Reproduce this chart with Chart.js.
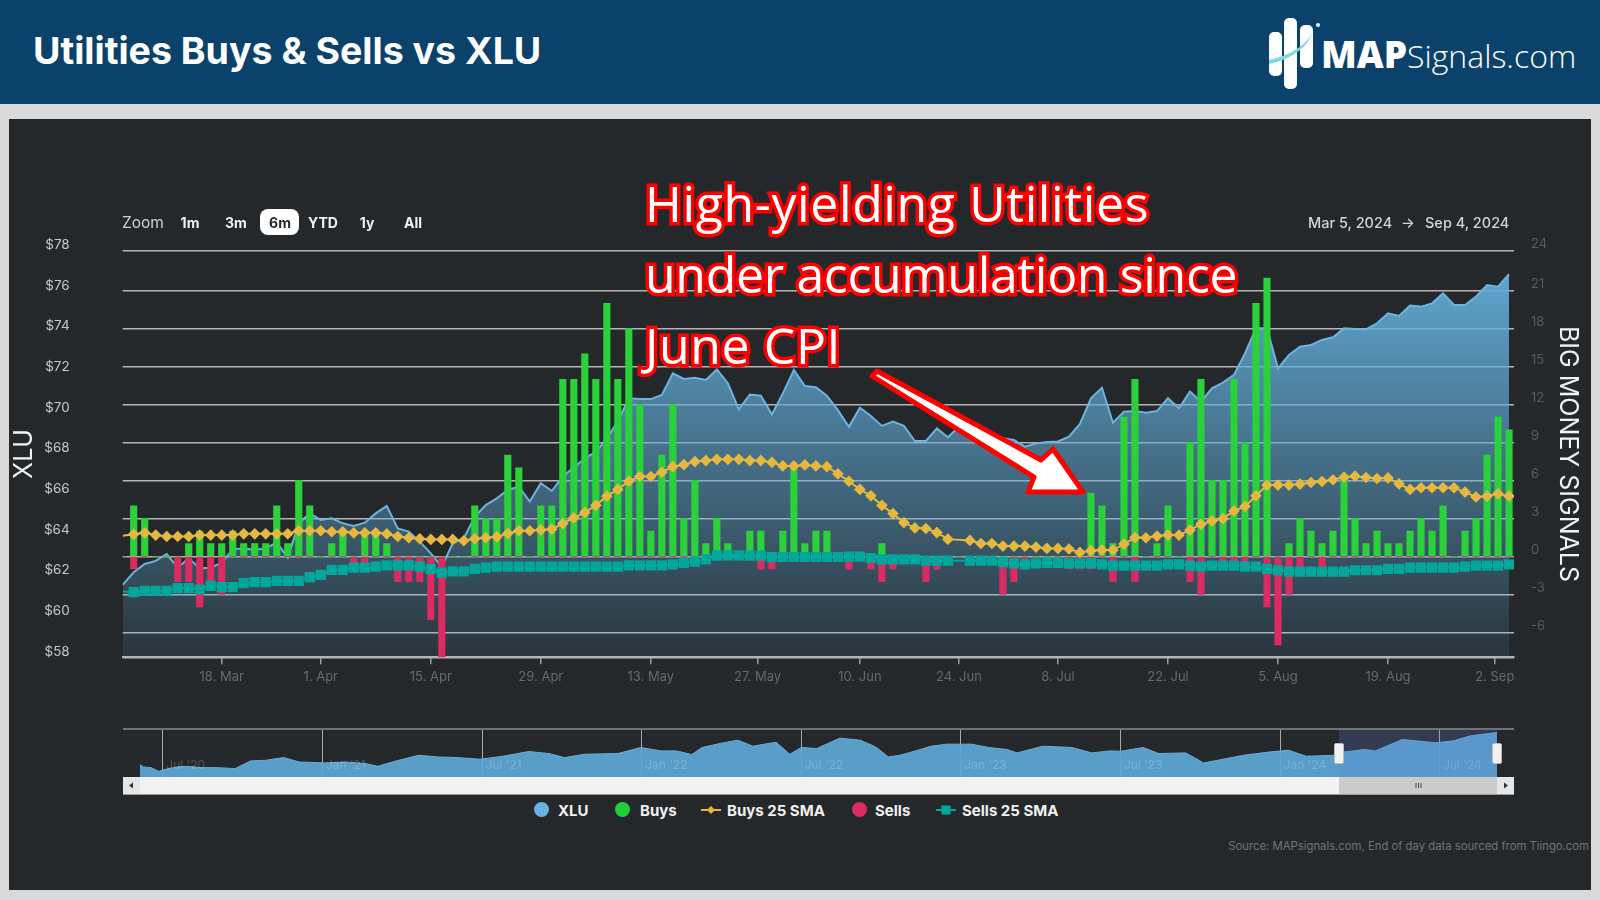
<!DOCTYPE html>
<html>
<head>
<meta charset="utf-8">
<title>Utilities Buys & Sells vs XLU</title>
<script src="https://cdn.jsdelivr.net/npm/chart.js@4"></script>
<style>
  html, body { margin: 0; padding: 0; width: 1600px; height: 900px; overflow: hidden; background: #dadada; font-family: Inter, sans-serif; }
  .abs { position: absolute; white-space: nowrap; }
  #header { left: 0; top: 0; width: 1600px; height: 104px; background: #0a426b; }
  #title { left: 33px; top: 28px; font: 700 37.5px Inter, sans-serif; color: #fff; }
  #panel { left: 9px; top: 118.5px; width: 1582px; height: 771.5px; background: #24282b; }
  canvas { position: absolute; left: 0; }
  #mainChart { top: 118px; }
  #navChart { top: 720px; }
  .zoomBtn { top: 214px; font: 700 14px Inter, sans-serif; color: #f2f2f2; transform: translateX(-50%); }
  #pill { left: 260px; top: 209px; width: 39px; height: 26px; border-radius: 8px; background: #fff; }
  .range { top: 214px; font: 500 14.5px Inter, sans-serif; color: #d4d4d4; }
  #note { left: 645px; top: 168px; font: 400 50px/71px "Open Sans", sans-serif; color: #fff; -webkit-text-stroke: 7px #f00; paint-order: stroke fill; white-space: pre; }
  .legendText { top: 801px; font: 700 15px Inter, sans-serif; color: #f2f2f2; }
  .dot { top: 802px; width: 15px; height: 15px; border-radius: 50%; }
  #source { right: 11px; top: 839px; font: 400 11.3px Inter, sans-serif; color: #6f7375; }
  #scroll { left: 123px; top: 777px; width: 1391px; height: 17px; background: #f2f2f2; border-bottom: 1px solid #999; }
  .arrowBtn { top: 777px; width: 17px; height: 17px; background: #e6e6e6; }
  #thumb { left: 1339px; top: 777px; width: 158px; height: 17px; background: #cbcbcb; }
  #navTop { left: 123px; top: 728px; width: 1391px; height: 2px; background: #707274; }
  #navMask { left: 1339px; top: 730px; width: 158px; height: 47px; background: rgba(98,128,220,0.22); }
  .handle { top: 743px; width: 8px; height: 19px; background: #f2f2f2; border: 1px solid #bbb; border-radius: 2px; }
  #logoText { left: 1321px; top: 28px; color: #fff; font: 300 32px "Open Sans", sans-serif; }
  #logoText b { font: 800 37px "Open Sans", sans-serif; }
</style>
</head>
<body>
<div class="abs" id="header"></div>
<div class="abs" id="title">Utilities Buys &amp; Sells vs XLU</div>
<svg class="abs" style="left:1260px;top:10px" width="70" height="85">
  <rect x="9" y="22" width="13" height="44" rx="5" fill="#fff"/>
  <rect x="24" y="8" width="13" height="71" rx="5" fill="#fff"/>
  <rect x="40" y="15" width="13" height="43" rx="5" fill="#fff"/>
  <path d="M9 50 C28 46 46 36 53 22 C47 39 29 50 9 54 Z" fill="#7fd6e6"/>
  <circle cx="58" cy="15" r="2" fill="#fff"/>
</svg>
<div class="abs" id="logoText"><b>MAP</b>Signals.com</div>
<div class="abs" id="panel"></div>
<canvas id="mainChart" width="1600" height="600"></canvas>
<canvas id="navChart" width="1600" height="57"></canvas>

<div class="abs" style="left:122px;top:213px;font:400 15.5px Inter,sans-serif;color:#cfcfcf">Zoom</div>
<div class="abs" id="pill"></div>
<div class="abs zoomBtn" style="left:190px">1m</div>
<div class="abs zoomBtn" style="left:236px">3m</div>
<div class="abs zoomBtn" style="left:280px;color:#24282b">6m</div>
<div class="abs zoomBtn" style="left:323px">YTD</div>
<div class="abs zoomBtn" style="left:367px">1y</div>
<div class="abs zoomBtn" style="left:413px">All</div>
<div class="abs range" style="left:1308px">Mar 5, 2024</div>
<div class="abs range" style="left:1401px">→</div>
<div class="abs range" style="left:1425px">Sep 4, 2024</div>

<div class="abs" id="navTop"></div>
<div class="abs" id="navMask"></div>
<div class="abs" id="scroll"></div>
<div class="abs arrowBtn" style="left:123px"></div>
<div class="abs" id="thumb"></div>
<div class="abs arrowBtn" style="left:1497px"></div>
<svg class="abs" style="left:123px;top:777px" width="1391" height="17">
  <path d="M6 8.5 L10 5.5 L10 11.5 Z" fill="#333"/>
  <path d="M1385 8.5 L1381 5.5 L1381 11.5 Z" fill="#333"/>
  <path d="M1293 6V11 M1295.5 6V11 M1298 6V11" stroke="#444" stroke-width="1"/>
</svg>
<div class="abs handle" style="left:1334px"></div>
<div class="abs handle" style="left:1492px"></div>

<div class="abs dot" style="left:534px;background:#66b2e0"></div>
<div class="abs legendText" style="left:558px">XLU</div>
<div class="abs dot" style="left:615px;background:#22cf3a"></div>
<div class="abs legendText" style="left:640px">Buys</div>
<svg class="abs" style="left:701px;top:803px" width="20" height="14"><path d="M0 7H20" stroke="#e8b53a" stroke-width="2"/><path d="M10 3L14 7L10 11L6 7Z" fill="#e8b53a"/></svg>
<div class="abs legendText" style="left:727px">Buys 25 SMA</div>
<div class="abs dot" style="left:852px;background:#dc2a63"></div>
<div class="abs legendText" style="left:875px">Sells</div>
<svg class="abs" style="left:936px;top:803px" width="20" height="14"><path d="M0 7H20" stroke="#00a79a" stroke-width="2"/><rect x="5.5" y="2.5" width="9" height="9" fill="#00a79a"/></svg>
<div class="abs legendText" style="left:962px">Sells 25 SMA</div>
<div class="abs" id="source">Source: MAPsignals.com, End of day data sourced from Tiingo.com</div>

<div class="abs" id="note"><span style="letter-spacing:0.6px">High-yielding Utilities</span>
<span style="letter-spacing:-0.34px">under accumulation since</span>
<span style="letter-spacing:0.6px">June CPI</span></div>
<svg class="abs" style="left:0;top:0" width="1600" height="900">
  <path d="M872 376 L877 371 L1041 460 L1053 449 L1083 492 L1028 492 L1034 477 Z" fill="#fff" stroke="#f00" stroke-width="5" stroke-linejoin="round"/>
</svg>

<script>
// Chart data, one entry per trading day, Mar 5 to Sep 4 2024
const xluPrices = [
  61.56, 62.18, 62.59, 62.74, 63.08, 62.41, 62.87, 62.38, 62.41, 62.66,
  63.31, 63.36, 63.28, 63.36, 63.64, 62.90, 64.59, 65.08, 64.75, 64.84,
  64.59, 64.46, 64.62, 65.08, 65.44, 64.34, 64.18, 63.69, 63.11, 62.46,
  63.61, 63.85, 64.92, 65.49, 65.82, 66.23, 66.39, 65.66, 66.56, 66.18,
  66.89, 67.34, 67.79, 68.11, 68.77, 69.59, 70.74, 70.70, 70.70, 70.90,
  71.97, 71.69, 71.75, 71.64, 72.16, 71.48, 70.20, 70.93, 70.87, 69.95,
  70.98, 72.13, 71.34, 71.28, 70.87, 70.16, 69.34, 70.28, 69.87, 69.38,
  69.59, 69.39, 68.64, 68.64, 69.26, 68.82, 69.34, 69.18, 69.02, 68.85,
  68.77, 68.69, 68.36, 68.52, 68.59, 68.62, 68.85, 69.48, 70.74, 71.26,
  69.54, 70.08, 70.11, 70.03, 70.11, 70.74, 70.25, 71.07, 70.57, 71.23,
  71.51, 71.89, 72.95, 74.18, 74.18, 72.21, 72.87, 73.28, 73.36, 73.61,
  73.74, 74.18, 74.15, 74.13, 74.43, 74.92, 74.79, 75.30, 75.25, 75.41,
  75.90, 75.33, 75.33, 75.74, 76.31, 76.23, 76.84
];
const buys = [
  0, 4, 3, 0, 0, 0, 1, 2, 1, 1,
  2, 1, 1, 1, 4, 1, 6, 4, 0, 1,
  2, 0, 2, 2, 1, 0, 0, 0, 0, 0,
  0, 0, 4, 3, 3, 8, 7, 0, 4, 4,
  14, 14, 16, 14, 20, 14, 18, 12, 2, 8,
  12, 3, 6, 1, 3, 1, 0, 2, 2, 0,
  2, 7, 1, 2, 2, 0, 0, 0, 0, 1,
  0, 0, 0, 0, 0, 0, 0, 0, 0, 0,
  0, 0, 0, 0, 0, 0, 0, 0, 5, 4,
  1, 11, 14, 0, 1, 4, 0, 9, 14, 6,
  6, 14, 9, 20, 22, 0, 1, 3, 2, 1,
  2, 6, 3, 1, 2, 1, 1, 2, 3, 2,
  4, 0, 2, 3, 8, 11, 10
];
const sells = [
  0, -1, 0, 0, 0, -2, -2, -4, -2, -3,
  0, 0, 0, 0, 0, 0, 0, 0, 0, 0,
  0, -1, -1, 0, 0, -2, -2, -2, -5, -8,
  0, 0, 0, 0, 0, 0, 0, 0, 0, 0,
  0, 0, 0, 0, 0, 0, 0, 0, 0, 0,
  0, 0, 0, 0, 0, 0, 0, 0, -1, -1,
  0, 0, 0, 0, 0, 0, -1, 0, -1, -2,
  -1, 0, 0, -2, -1, 0, 0, 0, 0, 0,
  -3, -2, -1, 0, 0, 0, -1, -1, -1, 0,
  -2, 0, -2, 0, 0, 0, 0, -2, -3, 0,
  -1, -1, -1, 0, -4, -7, -3, -1, 0, -1,
  0, 0, 0, 0, 0, 0, 0, 0, 0, 0,
  0, 0, 0, 0, 0, 0, 0
];
const buysSma = [
  1.62, 1.75, 1.86, 1.68, 1.57, 1.57, 1.57, 1.68, 1.68, 1.68,
  1.68, 1.78, 1.78, 1.78, 1.78, 1.78, 2.02, 2.02, 2.02, 1.94,
  1.94, 1.86, 1.86, 1.86, 1.78, 1.57, 1.47, 1.39, 1.34, 1.34,
  1.34, 1.23, 1.39, 1.47, 1.54, 1.81, 2.02, 2.02, 2.09, 2.15,
  2.59, 3.04, 3.46, 4.03, 4.76, 5.29, 5.94, 6.31, 6.31, 6.65,
  7.09, 7.25, 7.49, 7.57, 7.67, 7.67, 7.67, 7.57, 7.57, 7.43,
  7.15, 7.15, 7.23, 7.15, 7.09, 6.52, 5.94, 5.29, 4.79, 4.03,
  3.38, 2.67, 2.25, 2.20, 1.88, 1.36, null, 1.26, 1.02, 1.02,
  0.81, 0.81, 0.81, 0.73, 0.63, 0.63, 0.58, 0.31, 0.45, 0.50,
  0.50, 0.97, 1.49, 1.47, 1.60, 1.68, 1.68, 2.07, 2.54, 2.80,
  2.98, 3.59, 3.95, 4.79, 5.63, 5.63, 5.63, 5.71, 5.84, 5.92,
  6.05, 6.26, 6.34, 6.23, 6.15, 6.20, 5.73, 5.29, 5.42, 5.42,
  5.42, 5.42, 5.08, 4.69, 4.76, 4.95, 4.76
];
const sellsSma = [
  -2.77, -2.83, -2.72, -2.72, -2.72, -2.51, -2.51, -2.62, -2.33, -2.43,
  -2.43, -2.12, -2.04, -2.04, -1.94, -1.94, -1.94, -1.65, -1.47, -1.07,
  -1.07, -0.89, -0.89, -0.81, -0.71, -0.71, -0.71, -0.81, -0.99, -1.28,
  -1.18, -1.18, -0.99, -0.89, -0.81, -0.81, -0.81, -0.81, -0.81, -0.81,
  -0.81, -0.81, -0.81, -0.81, -0.81, -0.81, -0.71, -0.71, -0.71, -0.71,
  -0.63, -0.52, -0.42, -0.24, 0.05, 0.08, 0.08, 0.05, 0.05, -0.05,
  -0.05, -0.05, -0.05, -0.05, -0.05, -0.05, -0.03, -0.03, -0.13, -0.24,
  -0.24, -0.24, -0.24, -0.34, -0.34, -0.34, null, -0.34, -0.34, -0.34,
  -0.45, -0.55, -0.63, -0.55, -0.52, -0.52, -0.55, -0.55, -0.55, -0.63,
  -0.73, -0.73, -0.73, -0.73, -0.73, -0.63, -0.63, -0.73, -0.81, -0.73,
  -0.73, -0.73, -0.81, -0.81, -0.99, -1.10, -1.20, -1.20, -1.20, -1.20,
  -1.20, -1.20, -1.10, -1.10, -1.10, -0.99, -0.99, -0.89, -0.89, -0.89,
  -0.89, -0.89, -0.81, -0.73, -0.73, -0.73, -0.63
];

// Axis ticks
const xTickPositions = [9, 18, 28, 38, 48, 57.7, 67, 76, 85, 95, 105, 115, 124.7];
const xTickLabels = ['18. Mar', '1. Apr', '15. Apr', '29. Apr', '13. May', '27. May', '10. Jun', '24. Jun', '8. Jul', '22. Jul', '5. Aug', '19. Aug', '2. Sep'];
const priceTicks = [58, 60, 62, 64, 66, 68, 70, 72, 74, 76, 78];
// top line sits a little above 24 in the original, so the tick goes on the axis end
const signalTicks = [-7.98, -6, -3, 0, 3, 6, 9, 12, 15, 18, 21, 24.16];

// Navigator history: months since Jul '20 and XLU price
const navMonths = [
  -0.87, -0.74, -0.45, -0.16, 0.03, 0.51, 0.89, 1.47, 2.04, 2.71,
  3.29, 3.86, 4.54, 5.11, 6.07, 6.84, 7.61, 8.08, 8.76, 9.62,
  10.29, 11.06, 11.92, 12.79, 13.75, 14.51, 15.09, 15.86, 17.10, 17.96,
  18.73, 19.30, 19.88, 20.26, 20.94, 21.61, 22.18, 23.05, 23.56, 24.00,
  24.58, 25.44, 26.21, 26.79, 27.27, 27.71, 28.38, 28.88, 29.47, 30.39,
  31.06, 31.73, 32.11, 33.08, 34.17, 34.92, 35.59, 36.02, 36.85, 37.44,
  38.45, 39.12, 39.79, 40.63, 41.64, 42.31, 42.98, 44.07, 44.24, 45.16,
  45.58, 46.59, 47.85, 48.52, 49.11, 50.15
];
const navPrices = [
  53.48, 51.78, 51.29, 48.62, 49.84, 51.78, 52.27, 51.29, 51.29, 50.57,
  56.15, 56.64, 58.58, 55.43, 54.70, 55.43, 54.21, 52.27, 56.15, 60.29,
  59.07, 58.58, 57.37, 59.56, 62.96, 61.50, 58.58, 61.01, 61.50, 65.87,
  63.44, 63.44, 60.77, 65.87, 68.79, 71.22, 66.85, 69.76, 61.01, 65.87,
  65.15, 72.68, 71.22, 66.36, 59.07, 60.29, 63.93, 66.85, 68.30, 68.30,
  65.87, 64.42, 61.99, 66.85, 65.87, 61.99, 63.44, 63.20, 65.87, 61.50,
  61.99, 54.70, 57.13, 60.29, 62.72, 63.93, 59.56, 60.29, 62.23, 64.42,
  63.44, 71.71, 69.28, 70.73, 74.14, 76.81
];
const navTickPositions = [0, 6, 12, 18, 24, 30, 36, 42, 48];
const navTickLabels = ["Jul '20", "Jan '21", "Jul '21", "Jan '22", "Jul '22", "Jan '23", "Jul '23", "Jan '24", "Jul '24"];

const toPoints = values => values.map((v, i) => ({ x: i, y: v }));

// Area fade runs over the full plot height
function xluFill(ctx) {
  const area = ctx.chart.chartArea;
  if (!area) return 'transparent';
  const gradient = ctx.chart.ctx.createLinearGradient(0, area.top, 0, area.bottom);
  gradient.addColorStop(0, 'rgba(98,172,216,1)');
  gradient.addColorStop(1, 'rgba(98,172,216,0.1)');
  return gradient;
}

// Fixed axis box, without the extra padding for end labels
const fixWidth = width => scale => {
  scale.width = width;
  scale.paddingTop = 0;
  scale.paddingBottom = 0;
};

new Chart(document.getElementById('mainChart'), {
  type: 'bar',
  data: {
    datasets: [
      {
        type: 'line', label: 'Buys 25 SMA', data: toPoints(buysSma), yAxisID: 'signals', order: 2, spanGaps: true,
        borderColor: '#e6b83f', borderWidth: 2, backgroundColor: '#e6b83f', pointStyle: 'rectRot',
        pointRadius: ctx => ctx.dataIndex === 0 ? 0 : 4.4
      },
      {
        type: 'line', label: 'Sells 25 SMA', data: toPoints(sellsSma), yAxisID: 'signals', order: 1, spanGaps: true,
        borderColor: '#00a79a', borderWidth: 2, backgroundColor: '#00a79a', pointStyle: 'rect',
        pointRadius: ctx => ctx.dataIndex === 0 ? 0 : 5.8
      },
      { label: 'Buys', data: toPoints(buys), yAxisID: 'signals', order: 3, grouped: false, backgroundColor: '#2ad13a', barThickness: 6.5 },
      { label: 'Sells', data: toPoints(sells), yAxisID: 'signals', order: 3, grouped: false, backgroundColor: '#dc2a63', barThickness: 6.5 },
      {
        type: 'line', label: 'XLU', data: toPoints(xluPrices), yAxisID: 'price', order: 4, fill: 'start',
        borderColor: '#6cb4de', borderWidth: 2, backgroundColor: xluFill, pointRadius: 0, tension: 0
      }
    ]
  },
  options: {
    responsive: false,
    animation: false,
    layout: { padding: { top: 132.7, left: 0, right: 0, bottom: 0 } },
    plugins: { legend: { display: false }, tooltip: { enabled: false } },
    scales: {
      x: {
        type: 'linear', min: 0, max: 126.45, offset: false,
        afterBuildTicks: scale => { scale.ticks = xTickPositions.map(v => ({ value: v })); },
        afterFit: scale => { scale.height = 60.7; },
        border: { color: '#b4b4b4', width: 2 },
        grid: { offset: false, drawOnChartArea: false, drawTicks: true, tickLength: 7, color: '#9a9a9a', lineWidth: 1.5 },
        ticks: {
          autoSkip: false, maxRotation: 0, minRotation: 0, padding: 5, color: '#66696b',
          font: { family: 'Inter', size: 13 },
          callback: (value, index) => xTickLabels[index]
        }
      },
      price: {
        position: 'left', min: 58, max: 78,
        afterBuildTicks: scale => { scale.ticks = priceTicks.map(v => ({ value: v })); },
        afterFit: fixWidth(122.7),
        border: { display: false },
        grid: { display: false, drawTicks: false },
        title: { display: true, text: 'XLU', color: '#f2f2f2', font: { family: 'Inter', size: 25 }, padding: { top: 9.5, bottom: 0 } },
        ticks: {
          padding: 53, color: '#c8c8c8', font: { family: 'Inter', size: 13.5, lineHeight: 0.85 },
          callback: value => ['$' + value, '']
        }
      },
      signals: {
        position: 'right', min: -7.98, max: 24.16,
        afterBuildTicks: scale => { scale.ticks = signalTicks.map(v => ({ value: v })); },
        afterFit: fixWidth(86),
        border: { display: false },
        grid: { color: '#b4b4b4', lineWidth: 1.5, drawTicks: false },
        title: { display: true, text: 'BIG MONEY SIGNALS', color: '#f2f2f2', font: { family: 'Inter', size: 25 }, padding: { top: 17, bottom: 0 } },
        ticks: {
          padding: 17, color: '#585b5d', font: { family: 'Inter', size: 13, lineHeight: 0.95 },
          callback: value => value < -7 ? '' : [String(Math.round(value)), '']
        }
      }
    }
  }
});

new Chart(document.getElementById('navChart'), {
  type: 'line',
  data: {
    datasets: [{
      label: 'XLU',
      data: navMonths.map((m, i) => ({ x: m, y: navPrices[i] })),
      fill: 'start', borderColor: '#66aed8', borderWidth: 1, backgroundColor: 'rgba(92,168,212,0.93)', pointRadius: 0
    }]
  },
  options: {
    responsive: false,
    animation: false,
    layout: { padding: { top: 9, left: 122.7, right: 86, bottom: 0 } },
    plugins: { legend: { display: false }, tooltip: { enabled: false } },
    scales: {
      x: {
        type: 'linear', min: -1.515, max: 50.79,
        afterBuildTicks: scale => { scale.ticks = navTickPositions.map(v => ({ value: v })); },
        afterFit: scale => { scale.height = 0; },
        border: { display: false },
        grid: { color: '#a9a9a9', lineWidth: 1, drawTicks: false },
        ticks: {
          z: 1, mirror: true, autoSkip: false, maxRotation: 0, minRotation: 0, align: 'start', padding: 4,
          color: 'rgba(255,255,255,0.2)', font: { family: 'Inter', size: 12 },
          callback: (value, index) => ' ' + navTickLabels[index]
        }
      },
      y: { display: false, min: 44.5, max: 79.3 }
    }
  }
});
</script>
</body>
</html>
